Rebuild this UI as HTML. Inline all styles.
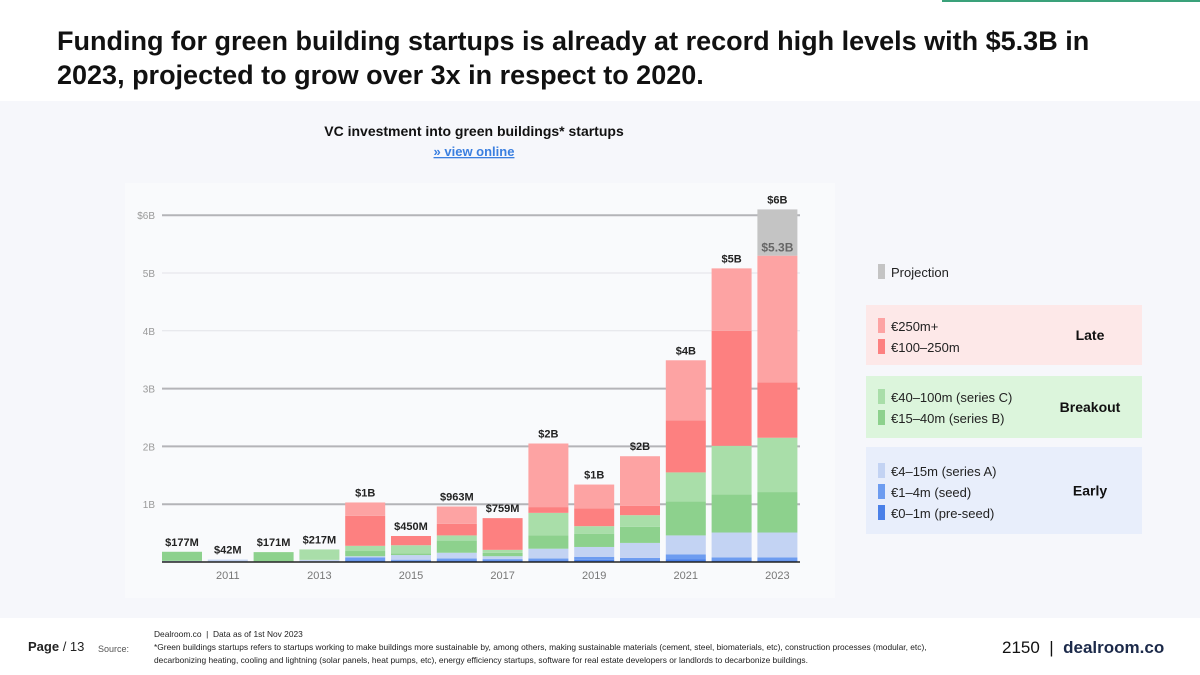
<!DOCTYPE html>
<html><head><meta charset="utf-8">
<style>
body{margin:0;width:1200px;height:675px;overflow:hidden;background:#fff;font-family:"Liberation Sans",sans-serif;position:relative}
.t{position:absolute;left:57px;top:24px;font-size:27px;font-weight:bold;line-height:34px;color:#111;width:1100px}
.band{position:absolute;left:0;top:101px;width:1200px;height:517px;background:#f6f7fb}
.topline{position:absolute;left:942px;top:0;width:258px;height:2px;background:#3aa17a}
svg{position:absolute;left:0;top:0}
.ft{position:absolute;font-size:9px;color:#222;line-height:13px}
</style></head><body>
<div class="topline"></div>
<div class="t">Funding for green building startups is already at record high levels with $5.3B in 2023, projected to grow over 3x in respect to 2020.</div>
<div class="band"></div>
<svg id="c" width="1200" height="675"></svg>
<div class="ft" style="left:28px;top:640px;font-size:13px"><b>Page</b> / 13</div>
<div class="ft" style="left:98px;top:643px;color:#555">Source:</div>
<div class="ft" style="left:154px;top:628px;width:805px;font-size:8.4px">Dealroom.co &nbsp;|&nbsp; Data as of 1st Nov 2023<br>*Green buildings startups refers to startups working to make buildings more sustainable by, among others, making sustainable materials (cement, steel, biomaterials, etc), construction processes (modular, etc), decarbonizing heating, cooling and lightning (solar panels, heat pumps, etc), energy efficiency startups, software for real estate developers or landlords to decarbonize buildings.</div>
<div class="ft" style="left:1002px;top:641px;font-size:17px;color:#111">2150 &nbsp;| &nbsp;<b style="color:#1c2a4a">dealroom.co</b></div>
<script>
const years=[2010,2011,2012,2013,2014,2015,2016,2017,2018,2019,2020,2021,2022,2023];
const preseed=[0,0,0,0,0.03,0.02,0.03,0.03,0.03,0.04,0.03,0.05,0.03,0.03];
const seed=[0,0,0,0,0.05,0.02,0.03,0.02,0.03,0.05,0.04,0.08,0.05,0.05];
const seriesA=[0.02,0.042,0.011,0.037,0.02,0.08,0.1,0.05,0.17,0.17,0.26,0.33,0.43,0.43];
const seriesB=[0.157,0,0.16,0,0.09,0.03,0.21,0.06,0.23,0.23,0.28,0.59,0.66,0.7];
const seriesC=[0,0,0,0.18,0.09,0.14,0.09,0.05,0.39,0.13,0.2,0.5,0.84,0.94];
const late100=[0,0,0,0,0.52,0.16,0.2,0.549,0.1,0.31,0.16,0.9,1.99,0.96];
const late250=[0,0,0,0,0.23,0,0.3,0,1.1,0.41,0.86,1.04,1.08,2.19];
const projection=[0,0,0,0,0,0,0,0,0,0,0,0,0,0.8];
const totalLabels=["$177M","$42M","$171M","$217M","$1B","$450M","$963M","$759M","$2B","$1B","$2B","$4B","$5B","$6B"];
const yTicks=[1,2,3,4,5,6];
const yTickLabels=["1B","2B","3B","4B","5B","$6B"];
const series=[preseed,seed,seriesA,seriesB,seriesC,late100,late250,projection];
const colors=["#4a80e8","#6d9cf0","#c3d3f3","#8dd18d","#a9dea9","#fd8080","#fda3a3","#c4c4c4"];
const names=["pre-seed","seed","series-a","series-b","series-c","late-100-250m","late-250m-plus","projection"];
const NS="http://www.w3.org/2000/svg";const svg=document.getElementById('c');
const base=562,unit=57.8,x0=182,step=45.8,bw=40;
const y=v=>base-v*unit, x=i=>x0+i*step;
function mk(t,a,txt){const e=document.createElementNS(NS,t);for(const k in a)e.setAttribute(k,a[k]);if(txt!=null)e.textContent=txt;svg.appendChild(e);return e;}
let e=mk('rect',{x:125,y:183,width:710,height:415,fill:'#f9fafc'});


yTicks.forEach((t,k)=>{const dark=[1,2,3,6].includes(t);
 let g=mk('line',{x1:162,x2:800,y1:y(t),y2:y(t),stroke:dark?'#b4b4b8':'#e2e3e8','stroke-width':dark?2:1});
 
 
 let l=mk('text',{x:155,y:y(t)+4,'text-anchor':'end','font-size':10,fill:'#999'},yTickLabels[k]);
 
 });
years.forEach((yr,i)=>{let acc=0;
 series.forEach((s,j)=>{const v=s[i];if(v<=0)return;
  let r=mk('rect',{x:x(i)-bw/2,y:y(acc+v),width:bw,height:v*unit,fill:colors[j]});
  
  
  acc+=v;});
 let tl=mk('text',{x:x(i),y:y(acc)-6,'text-anchor':'middle','font-size':11,'font-weight':'bold',fill:'#222'},totalLabels[i]);
 
 
 if(yr%2==1){let xl=mk('text',{x:x(i),y:579,'text-anchor':'middle','font-size':11,fill:'#777'},String(yr));
  
  }});
const last=years.length-1;let s23=0;for(let j=0;j<7;j++)s23+=series[j][last];
let pl=mk('text',{x:x(last),y:y(s23)-4,'text-anchor':'middle','font-size':12,'font-weight':'bold',fill:'#666'},"$5.3B");


let ax=mk('line',{x1:162,x2:800,y1:base,y2:base,stroke:'#222','stroke-width':1.5});


let ct=mk('text',{x:474,y:136,'text-anchor':'middle','font-size':14,'font-weight':'bold',fill:'#111'},"VC investment into green buildings* startups");


let lk=mk('text',{x:474,y:156,'text-anchor':'middle','font-size':13,'font-weight':'bold',fill:'#3a7fe0','text-decoration':'underline'},"» view online");


const groups=[{y:305,h:60,fill:'#fde8e8',label:'Late',n:'legend-late'},{y:376,h:62,fill:'#dcf5dc',label:'Breakout',n:'legend-breakout'},{y:447,h:87,fill:'#e8eefb',label:'Early',n:'legend-early'}];
groups.forEach(g=>{let r=mk('rect',{x:866,y:g.y,width:276,height:g.h,fill:g.fill});
 
 
 let t=mk('text',{x:1090,y:g.y+g.h/2+5,'text-anchor':'middle','font-size':14,'font-weight':'bold',fill:'#111'},g.label);
 
 });
const legItems=[["Projection",7,272],["€250m+",6,326],["€100–250m",5,347],["€40–100m (series C)",4,397],["€15–40m (series B)",3,418],["€4–15m (series A)",2,471],["€1–4m (seed)",1,492],["€0–1m (pre-seed)",0,513]];
legItems.forEach(it=>{let r=mk('rect',{x:878,y:it[2]-8,width:7,height:15,fill:colors[it[1]]});
 
 
 let t=mk('text',{x:891,y:it[2]+5,'font-size':13,fill:'#222'},it[0]);
 
 });
</script>
</body></html>
